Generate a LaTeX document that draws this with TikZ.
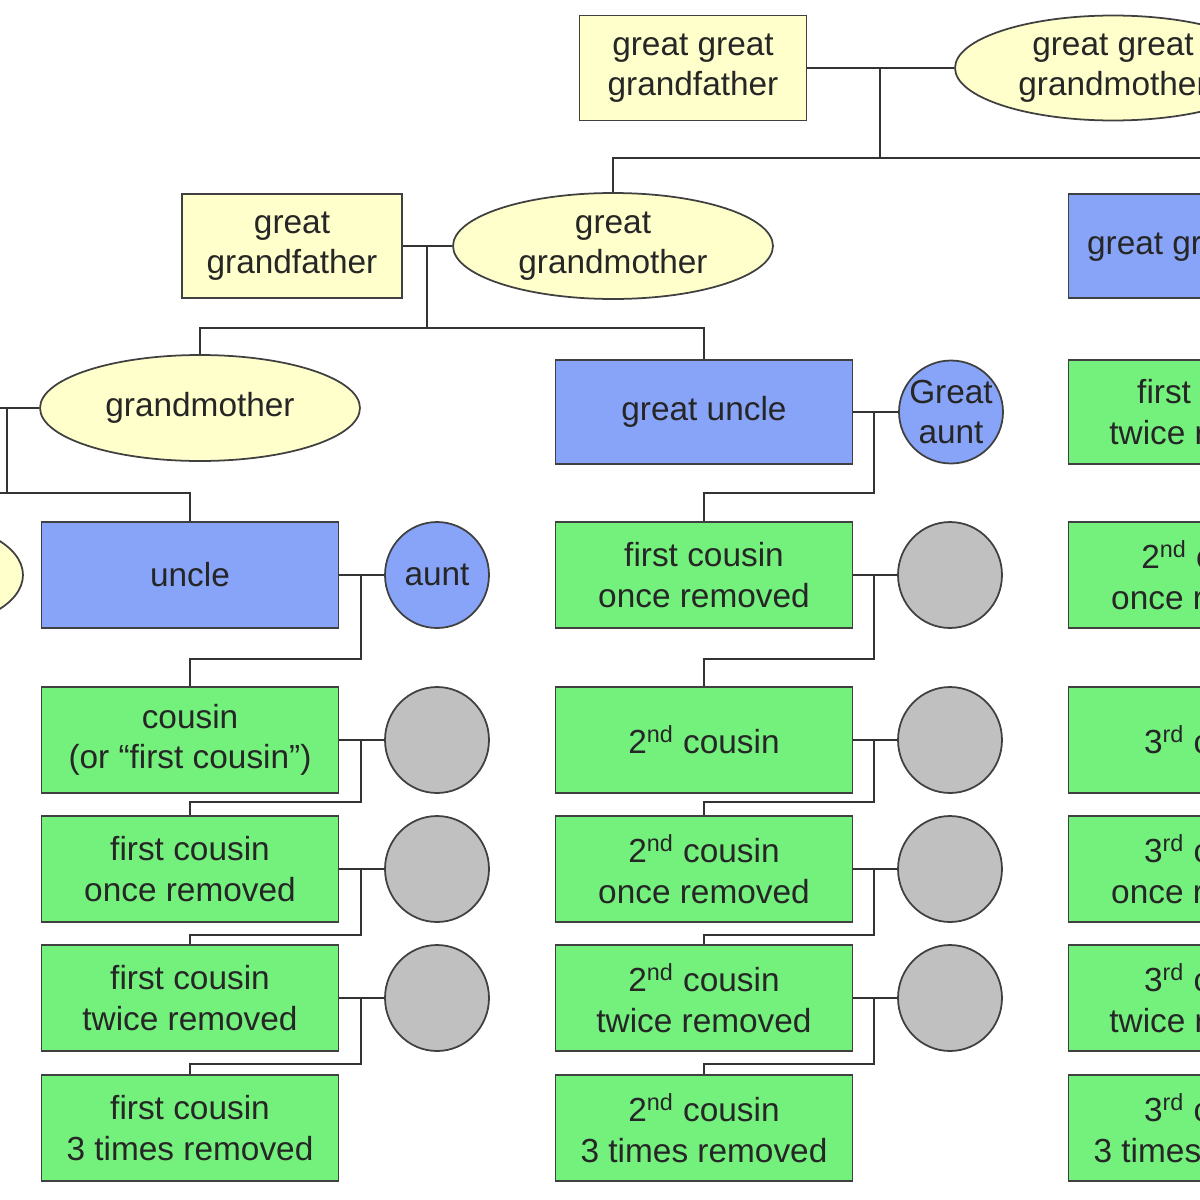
\documentclass[tikz,border=0pt]{standalone}
\usepackage{fontspec}
\setmainfont{Liberation Sans}
\usetikzlibrary{shapes.geometric}

\definecolor{famyellow}{HTML}{FFFFCC}
\definecolor{famblue}{HTML}{88A4F8}
\definecolor{famgreen}{HTML}{74F07C}
\definecolor{famgray}{HTML}{C0C0C0}

\tikzset{
  person/.style={draw=black!75, line width=1pt, align=center, text=black!85,
    font=\fontsize{19}{23}\selectfont, inner sep=0pt},
  man/.style={person, rectangle, minimum width=5.94cm, minimum height=2.12cm},
  woman/.style={person, ellipse, minimum width=6.4cm, minimum height=2.12cm},
  spouse/.style={person, ellipse, minimum width=2.08cm, minimum height=2.12cm},
  elder/.style={fill=famyellow},
  kin/.style={fill=famblue},
  cousin/.style={fill=famgreen},
  inlaw/.style={fill=famgray},
  link/.style={draw=black!80, line width=1pt},
}

\begin{document}
\begin{tikzpicture}[x=0.02cm, y=-0.02cm]
\useasboundingbox (0,0) rectangle (1200,1200);
\clip (0,0) rectangle (1200,1200);
%
	% great great grandparents
	\node[man, elder, minimum width=4.54cm, minimum height=2.1cm] (ggf) at (693,68) {great great\\grandfather};
	\node[woman, elder, minimum width=6.32cm, minimum height=2.1cm] (ggm) at (1113,68) {great great\\grandmother};
	% great grandparents
	\node[man, elder, minimum width=4.4cm, minimum height=2.08cm] (gf) at (292,246) {great\\grandfather};
	\node[woman, elder] (gm) at (613,246) {great\\grandmother};
	\node[man, kin, minimum height=2.08cm] (ggu) at (1217,246) {great grand uncle};
	% grandparents
	\coordinate (gpa) at (-60,408);
	\node[woman, elder] (grandma) at (200,408) {grandmother};
	\node[man, kin, minimum height=2.08cm] (gu) at (704,412) {great uncle};
	\node[spouse, kin, minimum height=2.06cm, inner xsep=-4pt] (ga) at (951,412) {Great\\aunt};
	\node[man, cousin, minimum height=2.08cm] (c1x2top) at (1217,412) {first cousin\\twice removed};
	% parents
	\node[woman, elder, minimum width=4cm] (parent) at (-77,575) {};
	\node[man, kin] (uncle) at (190,575) {uncle};
	\node[spouse, kin] (aunt) at (437,575) {aunt};
	\node[man, cousin] (c1x1top) at (704,575) {first cousin\\once removed};
	\node[spouse, inlaw] (sa) at (950,575) {};
	\node[man, cousin] (c2x1top) at (1217,575) {2\textsuperscript{nd} cousin\\once removed};
	% cousins
	\node[man, cousin] (c1) at (190,740) {cousin\\(or “first cousin”)};
	\node[spouse, inlaw] (s1) at (437,740) {};
	\node[man, cousin] (c2) at (704,740) {2\textsuperscript{nd} cousin};
	\node[spouse, inlaw] (s2) at (950,740) {};
	\node[man, cousin] (c3) at (1217,740) {3\textsuperscript{rd} cousin};
	% once removed
	\node[man, cousin] (c1x1) at (190,869) {first cousin\\once removed};
	\node[spouse, inlaw] (s1x1) at (437,869) {};
	\node[man, cousin] (c2x1) at (704,869) {2\textsuperscript{nd} cousin\\once removed};
	\node[spouse, inlaw] (s2x1) at (950,869) {};
	\node[man, cousin] (c3x1) at (1217,869) {3\textsuperscript{rd} cousin\\once removed};
	% twice removed
	\node[man, cousin] (c1x2) at (190,998) {first cousin\\twice removed};
	\node[spouse, inlaw] (s1x2) at (437,998) {};
	\node[man, cousin] (c2x2) at (704,998) {2\textsuperscript{nd} cousin\\twice removed};
	\node[spouse, inlaw] (s2x2) at (950,998) {};
	\node[man, cousin] (c3x2) at (1217,998) {3\textsuperscript{rd} cousin\\twice removed};
	% 3 times removed
	\node[man, cousin] (c1x3) at (190,1128) {first cousin\\3 times removed};
	\node[man, cousin] (c2x3) at (704,1128) {2\textsuperscript{nd} cousin\\3 times removed};
	\node[man, cousin] (c3x3) at (1217,1128) {3\textsuperscript{rd} cousin\\3 times removed};
%
	% marriages and descent
	\draw[link] (ggf.east) -- (ggm.west);
	\draw[link] (880,68) -- (880,158) -| (gm.north);
	\draw[link] (880,158) -| (ggu.north);
	\draw[link] (gf.east) -- (gm.west);
	\draw[link] (427,246) -- (427,328) -| (grandma.north);
	\draw[link] (427,328) -| (gu.north);
	\draw[link] (gpa) -- (grandma.west);
	\draw[link] (7,408) -- (7,493) -| (uncle.north);
	\draw[link] (7,493) -| (parent.north);
	\draw[link] (gu.east) -- (ga.west);
	\draw[link] (874,412) -- (874,493) -| (c1x1top.north);
	\draw[link] (uncle.east) -- (aunt.west);
	\draw[link] (361,575) -- (361,659) -| (c1.north);
	\draw[link] (c1x1top.east) -- (sa.west);
	\draw[link] (874,575) -- (874,659) -| (c2.north);
	\draw[link] (c1.east) -- (s1.west);
	\draw[link] (361,740) -- (361,802) -| (c1x1.north);
	\draw[link] (c1x1.east) -- (s1x1.west);
	\draw[link] (361,869) -- (361,935) -| (c1x2.north);
	\draw[link] (c1x2.east) -- (s1x2.west);
	\draw[link] (361,998) -- (361,1064) -| (c1x3.north);
	\draw[link] (c2.east) -- (s2.west);
	\draw[link] (874,740) -- (874,802) -| (c2x1.north);
	\draw[link] (c2x1.east) -- (s2x1.west);
	\draw[link] (874,869) -- (874,935) -| (c2x2.north);
	\draw[link] (c2x2.east) -- (s2x2.west);
	\draw[link] (874,998) -- (874,1064) -| (c2x3.north);
%
\end{tikzpicture}
\end{document}
